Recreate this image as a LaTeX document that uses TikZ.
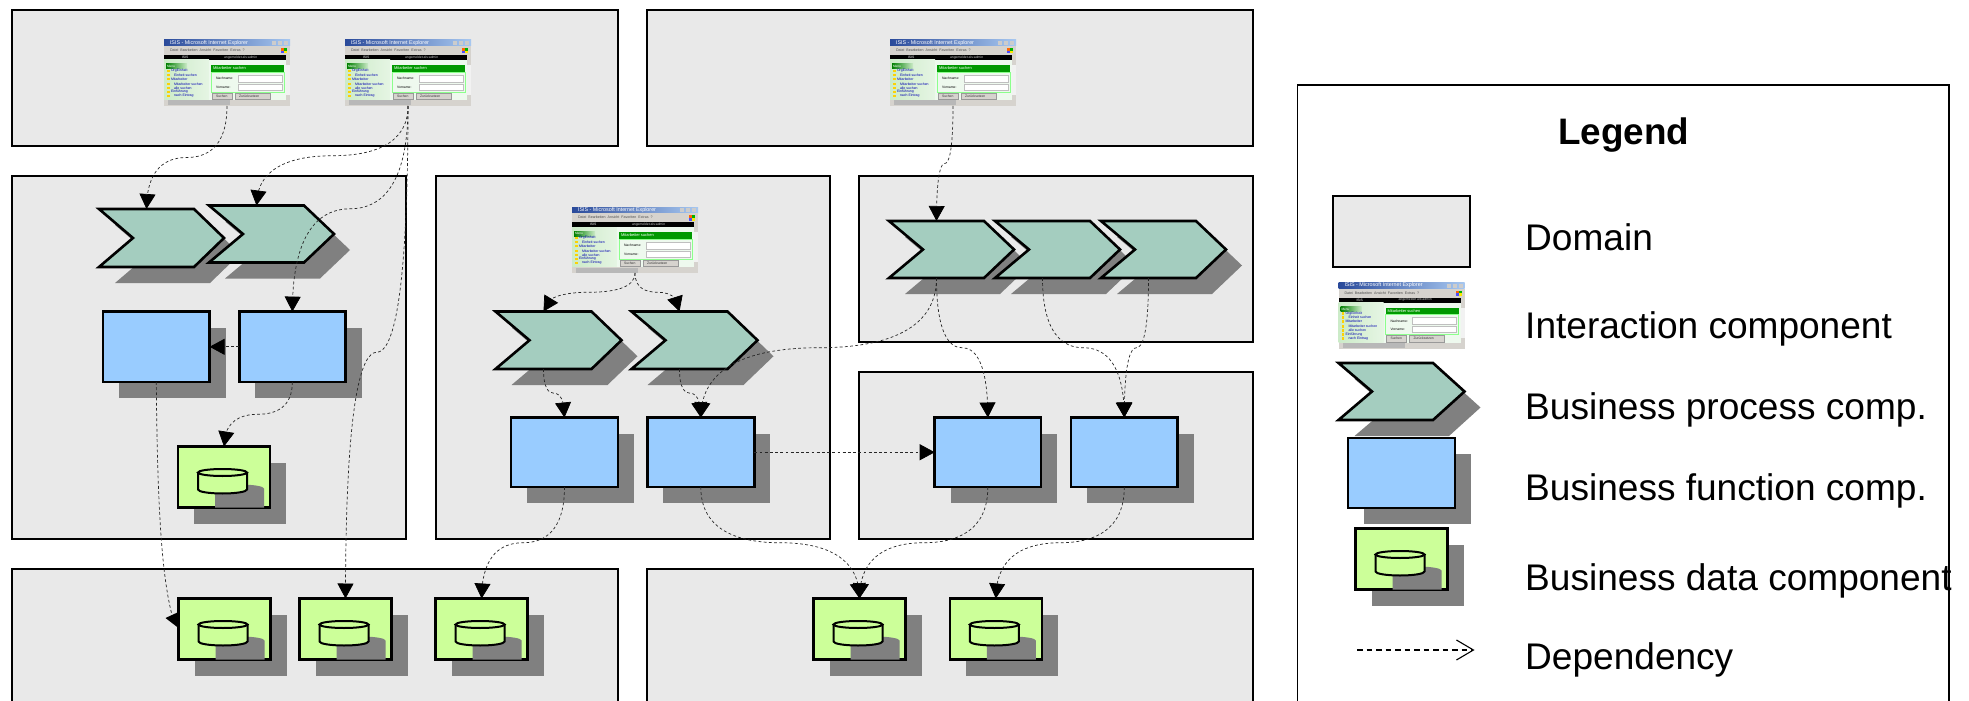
\documentclass[tikz,border=0pt]{standalone}
\usepackage{fontspec}
\setmainfont{Liberation Sans}
\usetikzlibrary{arrows.meta,bending,calc,shapes.geometric}
\newcommand\tinyf[1]{\fontsize{#1}{#1}\selectfont}
\definecolor{domainc}{HTML}{E9E9E9}
\definecolor{shadowc}{HTML}{808080}
\definecolor{procc}{HTML}{A4CDBF}
\definecolor{funcc}{HTML}{99CCFF}
\definecolor{datac}{HTML}{CCFF99}
\definecolor{tbarl}{HTML}{2A4A9A}
\definecolor{tbarr}{HTML}{A8C8F0}
\definecolor{menuc}{HTML}{D6D3CE}
\definecolor{panell}{HTML}{CCEBC8}
\definecolor{panelr}{HTML}{EEF9EE}
\tikzset{
  x=1bp,y=-1bp,
  bxbase/.style={rectangle,inner sep=0pt,outer sep=0pt},
  domainbox/.style={bxbase,draw=black,fill=domainc,line width=2bp},
  funcbox/.style={bxbase,draw=black,fill=funcc,line width=2.8bp},
  databox/.style={bxbase,draw=black,fill=datac,line width=2.6bp},
  ghost/.style={bxbase},
  shadowfill/.style={fill=shadowc},
  chevshape/.style={draw=black,fill=procc,line width=2.6bp,line join=miter},
  cyl/.style={draw=black,fill=datac,line width=2bp},
  dep/.style={draw=black!85,line width=.7bp,dash pattern=on 2.8bp off 2.4bp},
  depa/.style={dep,-{Triangle[length=15bp,width=16bp,black]}},
  legendtxt/.style={font=\fontsize{37.2}{40}\selectfont,anchor=base west,inner sep=0pt},
  ttxt/.style={anchor=west,inner sep=0pt,outer sep=0pt},
}
\newcommand\bx[6]{\node[#1,minimum width={(#5-#3)*1bp},minimum height={(#6-#4)*1bp}] (#2) at ({(#3+#5)/2},{(#4+#6)/2}) {};}
\newcommand\func[5]{\fill[shadowfill] ({#2+16},{#3+16}) rectangle ({#4+16},{#5+16});\bx{funcbox}{#1}{#2}{#3}{#4}{#5}}
\newcommand\datac[3]{%
  \fill[shadowfill] ({#2+16},{#3+16}) rectangle ({#2+108},{#3+77});
  \bx{databox}{#1}{#2}{#3}{#2+92}{#3+61}
  \fill[shadowfill] ({#2+37},{#3+42}) arc[start angle=180,end angle=0,x radius=24.5,y radius=-4] -- ({#2+86},{#3+61}) -- ({#2+37},{#3+61}) -- cycle;
  \draw[cyl] ({#2+20},{#3+26}) -- ({#2+20},{#3+43}) arc[start angle=180,end angle=360,x radius=24.5,y radius=-4] -- ({#2+69},{#3+26});
  \draw[cyl] ({#2+44.5},{#3+26}) ellipse[x radius=24.5,y radius=3.5];
}
\newcommand\chev[7]{%
  \fill[shadowfill] ({#2+16},{#3+16}) -- ({#2+#4-#6+16},{#3+16}) -- ({#2+#4+16},{#3+#5/2+16}) -- ({#2+#4-#6+16},{#3+#5+16}) -- ({#2+16},{#3+#5+16}) -- ({#2+#7+16},{#3+#5/2+16}) -- cycle;
  \draw[chevshape] (#2,#3) -- ({#2+#4-#6},#3) -- ({#2+#4},{#3+#5/2}) -- ({#2+#4-#6},{#3+#5}) -- (#2,{#3+#5}) -- ({#2+#7},{#3+#5/2}) -- cycle;
  \bx{ghost}{#1}{#2}{#3}{#2+#4-#6}{#3+#5}
}
\newcommand\dep[2]{\draw[depa] let \p1=(#1),\p2=(#2),\n1={0.5*(\x1+\x2)},\n2={0.5*(\y1+\y2)} in
  (#1) .. controls (\x1,{\y1+0.8*(\n2-\y1)}) and ({\n1+0.5*(\x1-\n1)},\n2) .. (\n1,\n2)
  .. controls ({\n1+0.5*(\x2-\n1)},\n2) and (\x2,{\y2+0.8*(\n2-\y2)}) .. (#2);}
\newcommand\thumb[3]{%
  \bx{ghost}{#1}{#2}{#3}{#2+126}{#3+66}
  \begin{scope}[shift={(#2,#3)}]
    \fill[domainc!60!white] (0,0) rectangle (126,66);
    \shade[left color=tbarl,right color=tbarr] (0,0) rectangle (126,6);
    \fill[menuc] (0,6) rectangle (126,15);
    \fill[black] (0,15) rectangle (122,20);
    \shade[left color=panell,right color=panell!50!white] (0,20) rectangle (45,60);
    \fill[panelr] (45,20) rectangle (122,60);
    \shade[left color=green!50!black,right color=panell] (2,24) rectangle (23,29);
    \fill[green!60!black] (47,25) rectangle (120,32);
    \draw[green!45!white,line width=.6bp] (47,32) rectangle (120,52);
    \fill[white,draw=black!25,line width=.3bp] (74,35) rectangle (118,42);
    \fill[white,draw=black!25,line width=.3bp] (74,44) rectangle (118,50);
    \fill[menuc,draw=black!40,line width=.3bp] (48,53) rectangle (68,59.5);
    \fill[menuc,draw=black!40,line width=.3bp] (71,53) rectangle (106,59.5);
    \fill[menuc] (0,60) rectangle (126,66);
    \fill[black!28] (4,60.5) rectangle (66,65.5);
    \fill[menuc] (122,15) rectangle (126,25);
    \fill[menuc] (122,55) rectangle (126,60);
    \fill[orange!80!red] (117,8) rectangle (120,10.8);
    \fill[green!70!black] (120,8) rectangle (123,10.8);
    \fill[blue!70!white] (117,10.8) rectangle (120,13.5);
    \fill[yellow!90!orange] (120,10.8) rectangle (123,13.5);
    \fill[black!20] (108,1) rectangle (112,5);
    \fill[black!20] (114,1) rectangle (118,5);
    \fill[black!20] (120,1) rectangle (124,5);
    \node[ttxt,text=white,font=\tinyf{5.4}] at (6,3) {ISIS - Microsoft Internet Explorer};
    \node[ttxt,text=black!70,font=\tinyf{3.6}] at (6,10.5) {Datei\ \ Bearbeiten\ \ Ansicht\ \ Favoriten\ \ Extras\ \ ?};
    \node[ttxt,text=white,font=\tinyf{3.4}] at (18,17.5) {ISIS};
    \node[ttxt,text=white!80!black,font=\tinyf{3.4}] at (60,17.5) {angemeldet als:admin};
    \node[ttxt,text=white,font=\tinyf{3.2}] at (3,26.5) {Menu};
    \foreach \ty/\tx/\tt in {31/7/OrgEinheit,35/10/Einheit suchen,39/7/Mitarbeiter,44/10/Mitarbeiter suchen,48/10/alle suchen,52/7/Einführung,56/10/nach Eintrag}{
      \node[ttxt,text=blue!70!black,font=\tinyf{3.5}] at (\tx,\ty) {\tt};
      \fill[yellow!70!orange] (3,{\ty-1.3}) rectangle (5.5,{\ty+1.3});
    }
    \node[ttxt,text=white,font=\tinyf{4}] at (49,28.5) {Mitarbeiter suchen};
    \node[ttxt,text=black,font=\tinyf{3.4}] at (52,38.5) {Nachname:};
    \node[ttxt,text=black,font=\tinyf{3.4}] at (52,47) {Vorname:};
    \node[ttxt,text=black!80,font=\tinyf{3.4}] at (52,56.2) {Suchen};
    \node[ttxt,text=black!80,font=\tinyf{3.4}] at (75,56.2) {Zurücksetzen};
  \end{scope}
}
\begin{document}
\begin{tikzpicture}
\useasboundingbox (0,0) rectangle (1969,701);
\fill[white] (0,0) rectangle (1969,701);
% domains
\bx{domainbox}{domA}{12}{10}{617.5}{146}
\bx{domainbox}{domD}{647}{10}{1253}{146}
\bx{domainbox}{domB}{12}{176}{406}{538.5}
\bx{domainbox}{domC}{436}{176}{829.5}{538.5}
\bx{domainbox}{domE}{859}{176}{1253}{342}
\bx{domainbox}{domF}{859}{372}{1253}{538.5}
\bx{domainbox}{domG}{12}{569}{617.5}{720}
\bx{domainbox}{domH}{647}{569}{1253}{720}
% thumbnails
\thumb{T1}{164}{40}
\thumb{T2}{345}{40}
\thumb{T3}{890}{40}
\thumb{T4}{572}{207}
% processes
\chev{P1}{99}{209}{125}{58}{30}{34}
\chev{P2}{209}{205.5}{125}{57}{30}{34}
\chev{P3}{495.5}{311.5}{126}{57.5}{30}{34}
\chev{P4}{631.5}{311.5}{126}{57.5}{30}{34}
\chev{P5}{889}{221}{125}{57}{30}{34}
\chev{P6}{995}{221}{125}{57}{30}{34}
\chev{P7}{1101}{221}{125}{57}{30}{34}
% functions
\func{F1}{103}{311.6}{209.6}{382}
\func{F2}{239.2}{311.6}{345.5}{382}
\func{F3}{511}{417.5}{618}{487}
\func{F4}{647.3}{417.5}{754.3}{487}
\func{F5}{934.7}{417.5}{1041}{487}
\func{F6}{1071}{417.5}{1177.6}{487}
% data
\datac{D1}{178}{446.5}
\datac{D2}{178.5}{598.5}
\datac{D3}{299.5}{598.5}
\datac{D4}{435.6}{598.5}
\datac{D5}{813.5}{598.5}
\datac{D6}{949.8}{598.5}
% dependencies
\dep{T1.south}{P1.north}
\dep{T2.south}{P2.north}
\dep{T2.south}{F2.north}
\dep{T2.south}{D3.north}
\dep{F2.south}{D1.north}
\draw[depa] (F2.west) -- (F1.east);
\coordinate (D2in) at ($(D2.west)+(-7,-16)$);
\draw[dep] (F1.south) .. controls ($(F1.south)+(1,120)$) and ($(F1.south)+(5,190)$) .. (D2in);
\fill[black] (D2in)++(-6,5) -- ++(13,-6) -- ++(0,16) -- cycle;
\dep{T3.south}{P5.north}
\dep{T4.south}{P3.north}
\dep{T4.south}{P4.north}
\dep{P3.south}{F3.north}
\dep{P4.south}{F4.north}
\dep{P5.south}{F4.north}
\dep{P5.south}{F5.north}
\dep{P6.south}{F6.north}
\dep{P7.south}{F6.north}
\draw[depa] (F4.east) -- (F5.west);
\dep{F3.south}{D4.north}
\dep{F4.south}{D5.north}
\dep{F5.south}{D5.north}
\dep{F6.south}{D6.north}
% legend
\draw[black,line width=1.5bp] (1297.5,720) -- (1297.5,85) -- (1949,85) -- (1949,720);
\node[font=\bfseries\fontsize{37}{40}\selectfont,anchor=base west,inner sep=0pt] (legT) at (1558,145) {Legend};
\bx{domainbox}{LD}{1332.7}{196}{1470}{267}
\thumb{LT}{1338.5}{282.5}
\chev{LP}{1338.5}{363}{126}{57}{31.5}{33.5}
\func{LF}{1348}{438}{1455}{508}
\datac{LB}{1355.5}{528.5}
\coordinate (dl1) at (1357,650);
\coordinate (dl2) at (1474.5,650);
\draw[line width=1.1bp,dash pattern=on 5.5bp off 4bp,-{Straight Barb[length=17bp,width=20bp,line width=1.1bp]}] (dl1) -- (dl2);
\node[legendtxt] (l1) at (1525,250) {Domain};
\node[legendtxt] (l2) at (1525,338.5) {Interaction component};
\node[legendtxt] (l3) at (1525,419) {Business process comp.};
\node[legendtxt] (l4) at (1525,500.5) {Business function comp.};
\node[legendtxt] (l5) at (1525,590) {Business data component};
\node[legendtxt] (l6) at (1525,669.5) {Dependency};
\end{tikzpicture}
\end{document}
